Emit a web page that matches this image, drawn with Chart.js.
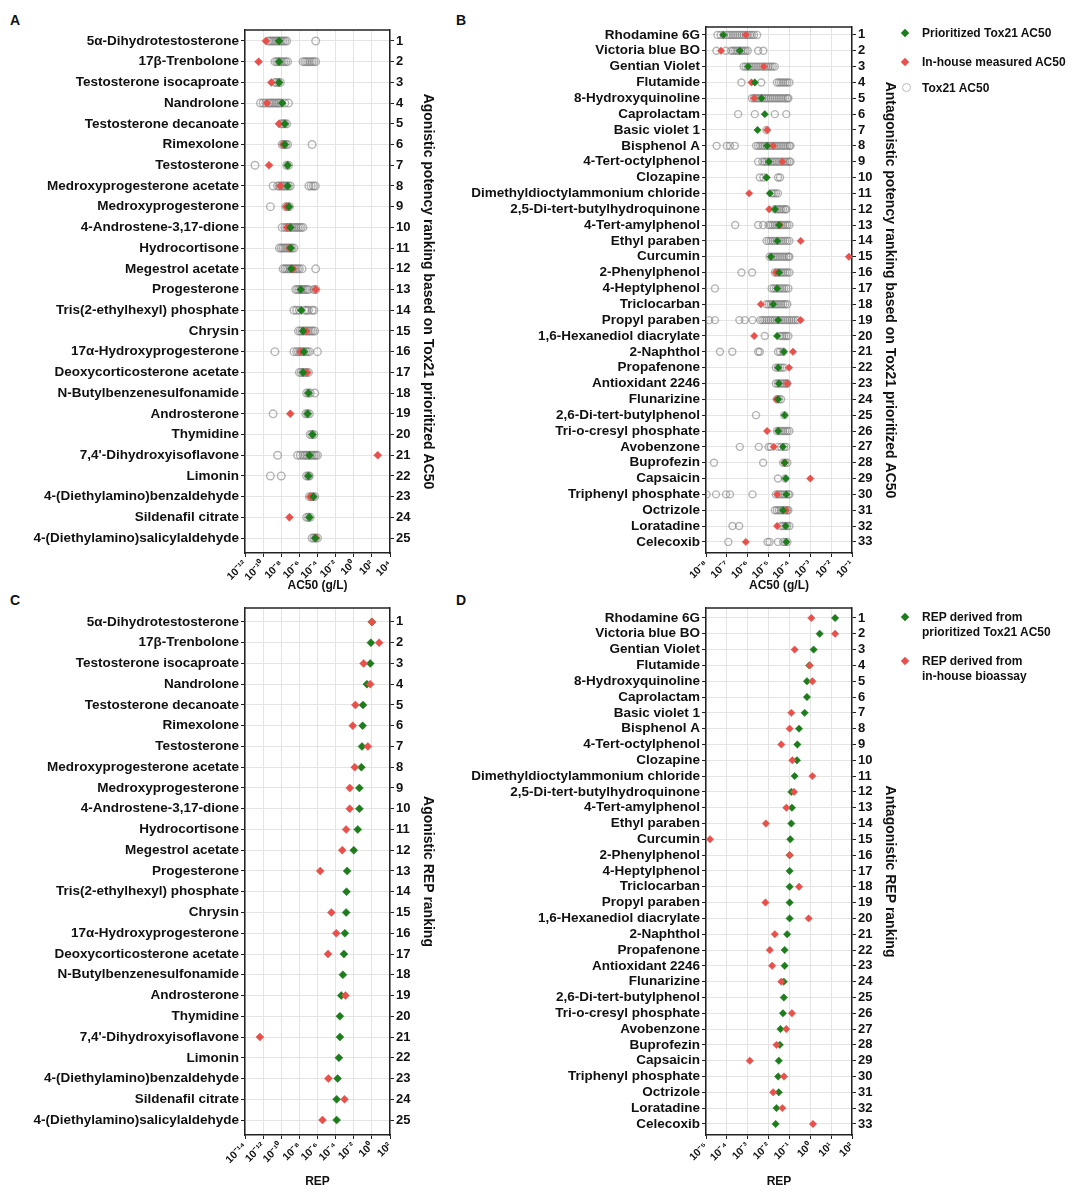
<!DOCTYPE html>
<html>
<head>
<meta charset="utf-8">
<script src="https://cdn.jsdelivr.net/npm/chart.js@4.4.1/dist/chart.umd.min.js"></script>
<style>
  body { margin: 0; width: 1080px; height: 1202px; background: #fff; position: relative; font-family: Arial, "Liberation Sans", Helvetica, sans-serif; color: #111; }
  .box { position: absolute; }
  .tag { position: absolute; font-weight: bold; font-size: 14px; }
  .leg { position: absolute; font-weight: bold; font-size: 12px; line-height: 15px; white-space: nowrap; }
  .dia { position: absolute; width: 6px; height: 6px; transform: rotate(45deg); }
  .ring { position: absolute; width: 7px; height: 7px; border: 1.2px solid #bbb; border-radius: 50%; }
</style>
</head>
<body>
<div class="tag" style="left:10px;top:12px">A</div>
<div class="tag" style="left:456px;top:12px">B</div>
<div class="tag" style="left:10px;top:592px">C</div>
<div class="tag" style="left:456px;top:592px">D</div>

<div class="box" style="left:0;top:0"><canvas id="chartA" width="440" height="593"></canvas></div>
<div class="box" style="left:450px;top:0"><canvas id="chartB" width="452" height="593"></canvas></div>
<div class="box" style="left:0;top:595px"><canvas id="chartC" width="440" height="594"></canvas></div>
<div class="box" style="left:450px;top:595px"><canvas id="chartD" width="452" height="594"></canvas></div>

<div class="dia" style="left:902px;top:30px;background:#1d7d1d"></div>
<div class="leg" style="left:922px;top:26px">Prioritized Tox21 AC50</div>
<div class="dia" style="left:902px;top:59px;background:#e8504b"></div>
<div class="leg" style="left:922px;top:55px">In-house measured AC50</div>
<div class="ring" style="left:902px;top:83px"></div>
<div class="leg" style="left:922px;top:81px">Tox21 AC50</div>

<div class="dia" style="left:902px;top:614px;background:#1d7d1d"></div>
<div class="leg" style="left:922px;top:610px">REP derived from<br>prioritized Tox21 AC50</div>
<div class="dia" style="left:902px;top:658px;background:#e8504b"></div>
<div class="leg" style="left:922px;top:654px">REP derived from<br>in-house bioassay</div>

<script>
// values are log10 (AC50 in g/L, or REP)
const agoNames = ['5α-Dihydrotestosterone', '17β-Trenbolone', 'Testosterone isocaproate', 'Nandrolone',
  'Testosterone decanoate', 'Rimexolone', 'Testosterone', 'Medroxyprogesterone acetate', 'Medroxyprogesterone',
  '4-Androstene-3,17-dione', 'Hydrocortisone', 'Megestrol acetate', 'Progesterone', 'Tris(2-ethylhexyl) phosphate',
  'Chrysin', '17α-Hydroxyprogesterone', 'Deoxycorticosterone acetate', 'N-Butylbenzenesulfonamide', 'Androsterone',
  'Thymidine', "7,4'-Dihydroxyisoflavone", 'Limonin', '4-(Diethylamino)benzaldehyde', 'Sildenafil citrate',
  '4-(Diethylamino)salicylaldehyde'];

const antaNames = ['Rhodamine 6G', 'Victoria blue BO', 'Gentian Violet', 'Flutamide', '8-Hydroxyquinoline',
  'Caprolactam', 'Basic violet 1', 'Bisphenol A', '4-Tert-octylphenol', 'Clozapine', 'Dimethyldioctylammonium chloride',
  '2,5-Di-tert-butylhydroquinone', '4-Tert-amylphenol', 'Ethyl paraben', 'Curcumin', '2-Phenylphenol', '4-Heptylphenol',
  'Triclocarban', 'Propyl paraben', '1,6-Hexanediol diacrylate', '2-Naphthol', 'Propafenone', 'Antioxidant 2246',
  'Flunarizine', '2,6-Di-tert-butylphenol', 'Tri-o-cresyl phosphate', 'Avobenzone', 'Buprofezin', 'Capsaicin',
  'Triphenyl phosphate', 'Octrizole', 'Loratadine', 'Celecoxib'];

const agoTicks = [-12, -10, -8, -6, -4, -2, 0, 2, 4];
const antaTicks = [-8, -7, -6, -5, -4, -3, -2, -1];
const agoRepTicks = [-14, -12, -10, -8, -6, -4, -2, 0, 2];
const antaRepTicks = [-5, -4, -3, -2, -1, 0, 1, 2];

// panel A
const agoPriorLog = [-8.25, -8.25, -8.25, -7.9, -7.6, -7.6, -7.3, -7.3, -7.15, -7.0, -6.95, -6.9, -5.85,
  -5.8, -5.6, -5.5, -5.6, -5.0, -5.1, -4.55, -4.9, -5.0, -4.45, -4.9, -4.25];
const agoInhouseLog = [-9.7, -10.5, -9.1, -9.6, -8.25, -7.8, -9.35, -8.1, -7.45, -7.35, -7.1, -6.7, -4.2,
  null, -5.25, -5.9, -5.15, null, -7.0, null, 2.65, null, -4.8, -7.1, -4.2];
const agoTox21Log = [
  [-9.4, -9.2, -9.0, -8.8, -8.6, -8.4, -8.2, -8.0, -7.8, -7.6, -7.4, -4.2],
  [-8.7, -8.5, -8.3, -8.1, -7.9, -7.7, -7.5, -7.3, -5.6, -5.4, -5.2, -5.0, -4.8, -4.6, -4.4, -4.2],
  [-8.7, -8.5, -8.3, -8.1],
  [-10.3, -10.0, -9.7, -9.4, -9.2, -9.0, -8.8, -8.6, -8.4, -8.2, -8.0, -7.6, -7.2],
  [-8.0, -7.8, -7.6, -7.4],
  [-7.9, -7.7, -7.5, -7.3, -4.6],
  [-10.9, -7.4, -7.2],
  [-8.9, -8.4, -8.2, -8.0, -7.8, -7.6, -7.4, -7.2, -7.0, -4.95, -4.7, -4.45, -4.25],
  [-9.2, -7.5, -7.3, -7.1],
  [-7.9, -7.6, -7.4, -7.2, -7.0, -6.8, -6.6, -6.4, -6.2, -6.0, -5.8, -5.6],
  [-8.2, -8.0, -7.8, -7.6, -7.4, -7.2, -7.0, -6.8, -6.6],
  [-7.8, -7.6, -7.4, -7.2, -7.0, -6.8, -6.6, -6.4, -6.2, -6.0, -5.7, -4.2],
  [-6.4, -6.2, -6.0, -5.8, -5.6, -5.4, -5.2, -5.0, -4.4, -4.2],
  [-6.6, -6.3, -6.0, -5.4, -5.2, -5.0, -4.6, -4.4],
  [-6.1, -5.9, -5.7, -5.5, -5.3, -5.1, -4.9, -4.7, -4.5, -4.3],
  [-8.7, -6.6, -6.3, -6.1, -5.9, -5.7, -5.5, -5.3, -5.1, -4.9, -4.0],
  [-6.0, -5.8, -5.6, -5.4, -5.2, -5.0],
  [-5.2, -5.0, -4.8, -4.3],
  [-8.9, -5.3, -5.1, -4.9],
  [-4.8, -4.6, -4.4],
  [-8.4, -6.2, -5.9, -5.6, -5.4, -5.2, -5.0, -4.8, -4.6, -4.4, -4.2, -4.0],
  [-9.2, -8.0, -5.2, -5.0, -4.9],
  [-4.9, -4.7, -4.5, -4.3],
  [-5.2, -5.0, -4.8],
  [-4.6, -4.4, -4.2, -4.0]
];

// panel B
const antaPriorLog = [-7.17, -6.38, -5.98, -5.66, -5.34, -5.18, -5.53, -5.07, -4.99, -5.1, -4.94, -4.69, -4.5,
  -4.58, -4.89, -4.5, -4.59, -4.78, -4.54, -4.59, -4.27, -4.54, -4.51, -4.54, -4.23, -4.54, -4.31, -4.23,
  -4.18, -4.15, -4.31, -4.18, -4.15];
const antaInhouseLog = [-6.09, -7.28, -5.23, -5.82, -5.69, null, -5.07, -4.78, -4.34, -5.1, -5.93, -4.97, -4.46,
  -3.46, -1.15, -4.66, null, -5.37, -3.46, -5.69, -3.83, -4.02, -4.1, -4.62, null, -5.07, -4.75, -4.23,
  -3.0, -4.59, -4.15, -4.59, -6.09];
const antaTox21Log = [
  [-7.45, -7.3, -7.15, -7.0, -6.9, -6.8, -6.7, -6.6, -6.5, -6.4, -6.3, -6.2, -6.1, -6.0, -5.9, -5.8, -5.7, -5.55],
  [-7.5, -7.05, -6.8, -6.7, -6.6, -6.5, -6.4, -6.3, -6.2, -6.1, -6.0, -5.5, -5.25],
  [-6.2, -6.1, -6.0, -5.9, -5.8, -5.7, -5.6, -5.5, -5.4, -5.3, -5.2, -5.1, -5.0, -4.9, -4.8, -4.7],
  [-6.3, -5.35, -4.6, -4.5, -4.4, -4.3, -4.2, -4.1, -4.0],
  [-5.8, -5.7, -5.6, -5.5, -5.4, -5.3, -5.2, -5.1, -5.0, -4.9, -4.8, -4.7, -4.6, -4.5, -4.4, -4.3, -4.2, -4.1, -4.05],
  [-6.46, -5.66, -4.7, -4.15],
  [-5.1],
  [-7.49, -7.0, -6.85, -6.62, -5.6, -5.5, -5.4, -5.3, -5.2, -5.1, -5.0, -4.9, -4.8, -4.7, -4.6, -4.5, -4.4, -4.3, -4.2, -4.1, -4.0, -3.95],
  [-5.5, -5.3, -5.2, -5.1, -5.0, -4.9, -4.8, -4.7, -4.6, -4.5, -4.4, -4.3, -4.2, -4.1, -4.0, -3.95],
  [-5.42, -5.25, -4.55, -4.45],
  [-4.85, -4.75, -4.65, -4.55],
  [-4.7, -4.6, -4.5, -4.4, -4.3, -4.2, -4.15],
  [-6.6, -5.5, -5.26, -5.0, -4.9, -4.8, -4.7, -4.6, -4.5, -4.4, -4.3, -4.2, -4.1, -4.0],
  [-5.1, -5.0, -4.9, -4.8, -4.7, -4.6, -4.5, -4.4, -4.3, -4.2, -4.1, -4.0],
  [-4.95, -4.85, -4.75, -4.65, -4.55, -4.45, -4.35, -4.25, -4.15, -4.05, -4.0],
  [-6.3, -5.79, -4.7, -4.6, -4.5, -4.4, -4.3, -4.2, -4.1, -4.0],
  [-7.57, -4.85, -4.75, -4.65, -4.55, -4.45, -4.35, -4.25, -4.15, -4.05],
  [-5.1, -5.0, -4.9, -4.8, -4.7, -4.6, -4.5, -4.4, -4.3, -4.2, -4.1],
  [-7.85, -7.57, -6.4, -6.14, -5.77, -5.4, -5.3, -5.2, -5.1, -5.0, -4.9, -4.8, -4.7, -4.6, -4.5, -4.4, -4.3,
    -4.2, -4.1, -4.0, -3.9, -3.8, -3.7, -3.6],
  [-5.18, -4.45, -4.35, -4.25, -4.15, -4.05],
  [-7.33, -6.74, -5.5, -5.42, -4.55, -4.45, -4.3],
  [-4.65, -4.55, -4.45, -4.35, -4.25],
  [-4.65, -4.55, -4.45, -4.35, -4.25, -4.15, -4.1],
  [-4.6, -4.5, -4.4],
  [-5.6, -4.25],
  [-4.6, -4.5, -4.4, -4.3, -4.2, -4.1, -4.0],
  [-6.38, -5.47, -5.0, -4.9, -4.55, -4.4, -4.25, -4.15],
  [-7.62, -5.26, -4.3, -4.2, -4.1],
  [-4.55, -4.2],
  [-7.97, -7.52, -7.04, -6.85, -5.77, -4.65, -4.55, -4.45, -4.35, -4.25, -4.15, -4.05, -4.0],
  [-4.7, -4.6, -4.5, -4.4, -4.3, -4.2, -4.1, -4.05],
  [-6.73, -6.41, -4.4, -4.3, -4.2, -4.1, -4.0],
  [-6.93, -5.05, -4.95, -4.55, -4.3, -4.2, -4.1]
];

// panel C
const agoRepPriorLog = [0, -0.11, -0.18, -0.55, -0.98, -1.02, -1.09, -1.16, -1.38, -1.38, -1.56, -2.0, -2.73,
  -2.8, -2.84, -2.98, -3.09, -3.2, -3.38, -3.53, -3.53, -3.64, -3.78, -3.89, -3.89];
const agoRepInhouseLog = [0, 0.8, -0.91, -0.18, -1.82, -2.11, -0.44, -1.89, -2.44, -2.44, -2.84, -3.27, -5.7,
  null, -4.47, -3.93, -4.84, null, -2.91, null, -12.36, null, -4.8, -3.02, -5.45];

// panel D
const antaRepPriorLog = [1.19, 0.45, 0.16, -0.05, -0.16, -0.16, -0.27, -0.54, -0.62, -0.64, -0.75, -0.91, -0.88,
  -0.91, -0.96, -0.99, -0.99, -0.99, -0.99, -0.99, -1.11, -1.23, -1.23, -1.27, -1.27, -1.31, -1.43, -1.46,
  -1.51, -1.54, -1.51, -1.62, -1.66];
const antaRepInhouseLog = [0.05, 1.19, -0.75, -0.03, 0.1, null, -0.91, -0.99, -1.39, -0.86, 0.1, -0.78, -1.15,
  -2.13, -4.81, -0.99, null, -0.54, -2.15, -0.08, -1.7, -1.94, -1.83, -1.39, null, -0.88, -1.15, -1.62,
  -2.9, -1.26, -1.78, -1.34, 0.13];

const GREEN = '#1d7d1d';
const RED = '#e8504b';
const SUP = { '-': '⁻', '0': '⁰', '1': '¹', '2': '²', '3': '³', '4': '⁴', '5': '⁵', '6': '⁶', '7': '⁷', '8': '⁸', '9': '⁹' };
const powLabel = e => '10' + String(e).split('').map(c => SUP[c]).join('');

Chart.defaults.font.family = 'Arial, "Liberation Sans", Helvetica, sans-serif';
Chart.defaults.color = '#111';

const toPoints = logs => logs
  .map((v, i) => v === null ? null : { x: Math.pow(10, v), y: i + 1 })
  .filter(p => p);
const toCloud = rows => {
  const out = [];
  rows.forEach((r, i) => r.forEach(v => out.push({ x: Math.pow(10, v), y: i + 1 })));
  return out;
};

const diamond = (logs, color, r, order) => ({
  data: toPoints(logs), pointStyle: 'rectRot', pointRadius: r, pointHoverRadius: r,
  pointBackgroundColor: color, pointBorderColor: color, pointBorderWidth: 0.5, order
});
const rings = (rows, r) => ({
  data: toCloud(rows), pointStyle: 'circle', pointRadius: r, pointHoverRadius: r,
  pointBackgroundColor: 'rgba(0,0,0,0)', pointBorderColor: 'rgba(120,120,120,0.55)', pointBorderWidth: 1.4, order: 9
});

// top edge of the frame
const topLine = {
  id: 'topLine',
  afterDraw(chart) {
    const a = chart.chartArea, ctx = chart.ctx;
    ctx.save();
    ctx.strokeStyle = '#222';
    ctx.lineWidth = 1.5;
    ctx.beginPath();
    ctx.moveTo(a.left, a.top);
    ctx.lineTo(a.right, a.top);
    ctx.stroke();
    ctx.restore();
  }
};

function panel(id, o) {
  const rowAxis = {
    type: 'linear', reverse: true, min: o.yMin, max: o.yMax,
    afterBuildTicks: s => { s.ticks = o.names.map((_, i) => ({ value: i + 1 })); },
    border: { color: '#222', width: 1.5 }
  };
  new Chart(document.getElementById(id), {
    type: 'scatter',
    data: { datasets: o.datasets },
    options: {
      responsive: false,
      animation: false,
      layout: { padding: { top: o.top } },
      plugins: { legend: { display: false }, tooltip: { enabled: false } },
      scales: {
        x: {
          type: 'logarithmic', position: 'bottom',
          min: Math.pow(10, o.ticks[0]), max: Math.pow(10, o.ticks[o.ticks.length - 1]),
          afterBuildTicks: s => { s.ticks = o.ticks.map(e => ({ value: Math.pow(10, e) })); },
          afterFit: s => { s.height = o.xH; },
          ticks: {
            autoSkip: false, minRotation: 45, maxRotation: 45, padding: 1,
            font: { size: 10.5, weight: 'bold' },
            callback: v => powLabel(Math.round(Math.log10(v)))
          },
          grid: { color: '#e4e4e4', tickLength: 4, tickColor: '#222' },
          border: { color: '#222', width: 1.5 },
          title: { display: true, text: o.xTitle, padding: { top: 0, bottom: 0 }, font: { size: 12, weight: 'bold' } }
        },
        y: {
          ...rowAxis, position: 'left',
          afterFit: s => { s.width = o.leftW; },
          ticks: { autoSkip: false, padding: 2, font: { size: 13.5, weight: 'bold' }, callback: v => o.names[v - 1] },
          grid: { color: '#e4e4e4', tickLength: 4, tickColor: '#222' }
        },
        y2: {
          ...rowAxis, position: 'right',
          afterFit: s => { s.width = o.rightW; },
          ticks: { autoSkip: false, padding: 2, font: { size: 13, weight: 'bold' }, callback: v => v },
          grid: { drawOnChartArea: false, tickLength: 4, tickColor: '#222' },
          title: { display: true, text: o.rTitle, font: { size: 14, weight: 'bold' } }
        }
      }
    },
    plugins: [topLine]
  });
}

panel('chartA', {
  names: agoNames, ticks: agoTicks, top: 30, leftW: 245, rightW: 50, xH: 40, yMin: 0.47, yMax: 25.72,
  xTitle: 'AC50 (g/L)', rTitle: 'Agonistic potency ranking based on Tox21 prioritized AC50',
  datasets: [rings(agoTox21Log, 3.8), diamond(agoInhouseLog, RED, 4, 2), diamond(agoPriorLog, GREEN, 4, 1)]
});
panel('chartB', {
  names: antaNames, ticks: antaTicks, top: 27, leftW: 256, rightW: 50, xH: 40, yMin: 0.5, yMax: 33.7,
  xTitle: 'AC50 (g/L)', rTitle: 'Antagonistic potency ranking based on Tox21 prioritized AC50',
  datasets: [rings(antaTox21Log, 3.5), diamond(antaInhouseLog, RED, 3.7, 2), diamond(antaPriorLog, GREEN, 3.7, 1)]
});
panel('chartC', {
  names: agoNames, ticks: agoRepTicks, top: 13, leftW: 245, rightW: 50, xH: 54, yMin: 0.33, yMax: 25.72,
  xTitle: 'REP', rTitle: 'Agonistic REP ranking',
  datasets: [diamond(agoRepPriorLog, GREEN, 4, 2), diamond(agoRepInhouseLog, RED, 4, 1)]
});
panel('chartD', {
  names: antaNames, ticks: antaRepTicks, top: 13, leftW: 256, rightW: 50, xH: 54, yMin: 0.37, yMax: 33.7,
  xTitle: 'REP', rTitle: 'Antagonistic REP ranking',
  datasets: [diamond(antaRepPriorLog, GREEN, 3.7, 2), diamond(antaRepInhouseLog, RED, 3.7, 1)]
});
</script>
</body>
</html>
